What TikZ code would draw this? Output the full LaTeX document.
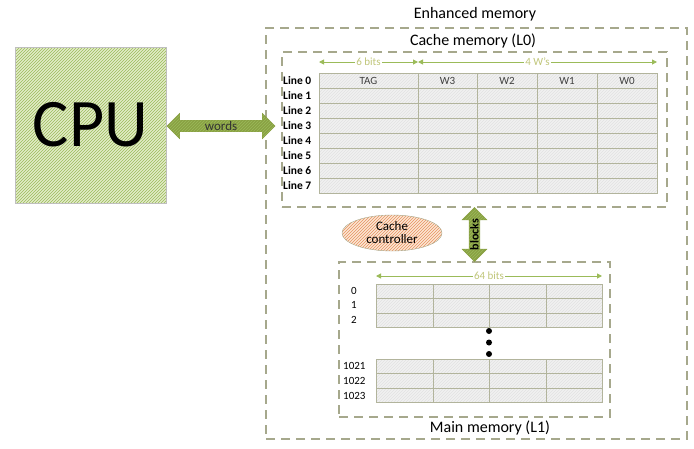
\documentclass[tikz,border=0pt]{standalone}
\usepackage{fontspec}
\setmainfont{Carlito}
\usetikzlibrary{positioning,shapes.geometric,shapes.arrows,patterns,arrows.meta,calc}
\definecolor{boxline}{RGB}{166,168,140}
\definecolor{gridline}{RGB}{178,180,156}
\definecolor{cellfill}{RGB}{241,241,241}
\definecolor{cellhatch}{RGB}{226,226,226}
\definecolor{leaf}{RGB}{155,187,89}
\definecolor{leafmid}{RGB}{138,160,68}
\definecolor{leaflight}{RGB}{226,236,200}
\definecolor{dimtext}{RGB}{192,198,122}
\definecolor{peach}{RGB}{252,230,212}
\definecolor{rust}{RGB}{230,146,96}

\tikzset{
    membox/.style={draw=boxline, line width=2.6pt, dash pattern=on 9pt off 6pt},
    cell/.style={draw=gridline, line width=0.9pt, preaction={fill=cellfill},
        pattern=north east lines, pattern color=cellhatch},
    dim/.style={leaf, line width=1pt, {Triangle[length=5pt,width=5pt]}-{Triangle[length=5pt,width=5pt]}},
    dimlabel/.style={fill=white, text=dimtext, inner sep=1pt, font=\fontsize{11}{12}\selectfont},
    title/.style={font=\fontsize{16}{18}\selectfont},
    rowlabel/.style={anchor=west, inner sep=0pt, font=\fontsize{11}{12}\selectfont},
    fat/.style={double arrow, draw=leafmid, double arrow head extend=7pt,
        preaction={fill=leafmid}, pattern=north east lines, pattern color=leaf},
}

\begin{document}
\begin{tikzpicture}[x=1pt, y=-1pt]
    \useasboundingbox (0,0) rectangle (694,448);
    % memory boxes
    \node[membox, minimum width=421pt, minimum height=411pt] (enhanced) at (476.5,233.5) {};
    \node[membox, minimum width=385pt, minimum height=155pt] (cache) at (474.5,129.5) {};
    \node[membox, minimum width=271pt, minimum height=155pt] (main) at (474.5,339.5) {};
    \node[title] (enhtitle) at (475,14) {Enhanced memory};
    \node[title] (cachetitle) at (473,41) {Cache memory (L0)};
    \node[title] (maintitle) at (490,428) {Main memory (L1)};

    % cache lines
    \foreach \r in {0,...,7} {
        \foreach \xa/\xb in {319/418, 418/477, 477/537, 537/597, 597/657} {
            \draw[cell] ({\xa},{73+15*\r}) rectangle ({\xb},{88+15*\r});
        }
        \node[rowlabel, font=\fontsize{11.5}{12}\selectfont\bfseries] (line\r) at (283,{80.5+15*\r}) {Line \r};
    };
    \foreach \x/\txt in {368.5/TAG, 447.5/W3, 507/W2, 567/W1, 627/W0} {
        \node[font=\fontsize{11}{12}\selectfont, text=black!75] (head\txt) at (\x,80.5) {\txt};
    };
    \draw[dim] (319,62) -- node[dimlabel] (tagbits) {6 bits} (418,62);
    \draw[dim] (418,62) -- node[dimlabel] (wordbits) {4 W's} (657,62);

    % main memory blocks
    \foreach \yt in {284, 298.5, 313, 359, 373.5, 388} {
        \foreach \xa/\xb in {376/433, 433/489, 489/546, 546/602} {
            \draw[cell] ({\xa},{\yt}) rectangle ({\xb},{\yt+14.5});
        }
    };
    \draw[dim] (376,276) -- node[dimlabel] (blockbits) {64 bits} (602,276);
    \foreach \n/\y in {0/291, 1/305, 2/320} {
        \node[rowlabel] (blk\n) at (351,\y) {\n};
    };
    \foreach \n/\y in {1021/366, 1022/381, 1023/396} {
        \node[rowlabel] (blk\n) at (343,\y) {\n};
    };
    \foreach \y in {331, 342.5, 354} {
        \fill (489,\y) circle (3pt);
    };

    % CPU and controller
    \node[draw=black!25, minimum width=151pt, minimum height=156pt,
        preaction={fill=leaflight}, pattern=north east lines, pattern color=leaf,
        font=\fontsize{68}{70}\selectfont] (cpu) at (90.5,125) {CPU};
    \node[ellipse, draw=boxline, minimum width=100pt, minimum height=36pt,
        preaction={fill=peach}, pattern=north east lines, pattern color=rust,
        align=center, inner sep=0pt, font=\fontsize{13}{13}\selectfont] (ctrl) at (392,233) {Cache\\controller};

    % transfers
    \node[fat, minimum height=108pt, minimum width=14pt, inner sep=1pt,
        font=\fontsize{13}{13}\selectfont, text=black!80] (words) at (221,126) {words};
    \node[fat, rotate=90, minimum height=54pt, minimum width=14pt, inner sep=1pt,
        font=\fontsize{12}{12}\selectfont\bfseries] (blocks) at ($(cache.south)!0.5!(main.north)$) {blocks};
\end{tikzpicture}
\end{document}
